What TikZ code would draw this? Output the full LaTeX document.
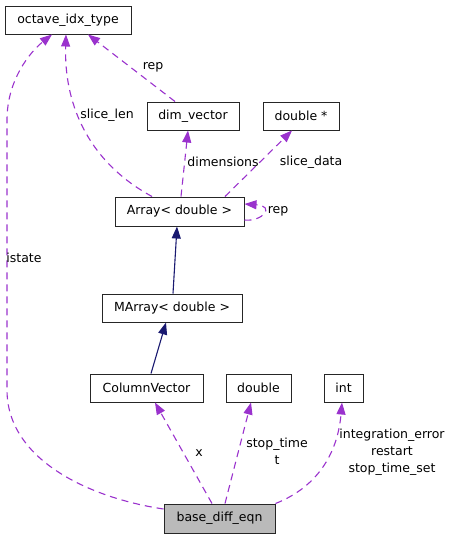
\documentclass[tikz,border=0pt]{standalone}
\usepackage{fontspec}
\setmainfont{DejaVu Sans}
\usetikzlibrary{arrows.meta}
\definecolor{edgepurple}{HTML}{9A32CD}
\definecolor{edgenavy}{HTML}{191970}
\begin{document}
\begin{tikzpicture}[x=1pt,y=-1pt,
  box/.style={draw=black!85, line width=1pt, inner sep=0pt, font=\fontsize{12.5}{15}\selectfont},
  usage/.style={edgepurple, line width=1.1pt, dash pattern=on 7pt off 5pt, -{Triangle[length=12pt,width=9pt]}},
  inherit/.style={edgenavy, line width=1.1pt, -{Triangle[length=12pt,width=9pt]}},
  lbl/.style={inner sep=0pt, align=center, font=\fontsize{12.5}{17}\selectfont}]
\useasboundingbox (0,0) rectangle (452,539);
\node[box, minimum width=126pt, minimum height=28pt] (oit) at (68,20) {octave\_idx\_type};
\node[box, minimum width=92pt, minimum height=28pt] (dv) at (193,116) {dim\_vector};
\node[box, minimum width=76pt, minimum height=28pt] (dp) at (301,116) {double *};
\node[box, minimum width=129pt, minimum height=29pt] (arr) at (179.5,211.5) {Array< double >};
\node[box, minimum width=140pt, minimum height=28pt] (marr) at (172,308) {MArray< double >};
\node[box, minimum width=113pt, minimum height=28pt] (cv) at (146.5,388) {ColumnVector};
\node[box, minimum width=65pt, minimum height=28pt] (dbl) at (258.5,388) {double};
\node[box, minimum width=39pt, minimum height=28pt] (int) at (343.5,388) {int};
\node[box, fill=black!27, minimum width=111pt, minimum height=29pt] (base) at (219.5,518.5) {base\_diff\_eqn};

% usage edges
\draw[usage] (base.west |- 0,509) .. controls (90,498) and (7,460) .. (7,390) -- (7,120) .. controls (7,80) and (30,52) .. (oit.south -| 52,0);
\draw[usage] (arr.north -| 152,0) .. controls (85,160) and (64,100) .. (oit.south -| 66,0);
\draw[usage] (dv.north -| 175,0) -- (oit.south -| 88,0);
\draw[usage] (arr.north -| 181,0) -- (dv.south -| 188,0);
\draw[usage] (arr.north -| 225,0) -- (dp.south -| 292,0);
\draw[usage] (arr.east |- 0,220) .. controls (262,222) and (276,206) .. (arr.east |- 0,204);
\draw[inherit] (marr.north -| 173,0) -- (arr.south -| 177,0);
\draw[inherit] (cv.north -| 151,0) -- (marr.south -| 166,0);
\draw[usage] (base.north -| 212,0) -- (cv.south -| 155,0);
\draw[usage] (base.north -| 225,0) -- (dbl.south -| 251,0);
\draw[usage] (base.north east) .. controls (320,486) and (338,450) .. (int.south -| 342,0);

% labels
\node[lbl] (l1) at (24,258) {istate};
\node[lbl] (l2) at (107,115) {slice\_len};
\node[lbl] (l3) at (153,67) {rep};
\node[lbl] (l4) at (223,162) {dimensions};
\node[lbl] (l5) at (311,162) {slice\_data};
\node[lbl] (l6) at (278,211) {rep};
\node[lbl] (l7) at (199,453) {x};
\node[lbl] (l8) at (277,451) {stop\_time\\t};
\node[lbl] (l9) at (392,452) {integration\_error\\restart\\stop\_time\_set};
\end{tikzpicture}
\end{document}
